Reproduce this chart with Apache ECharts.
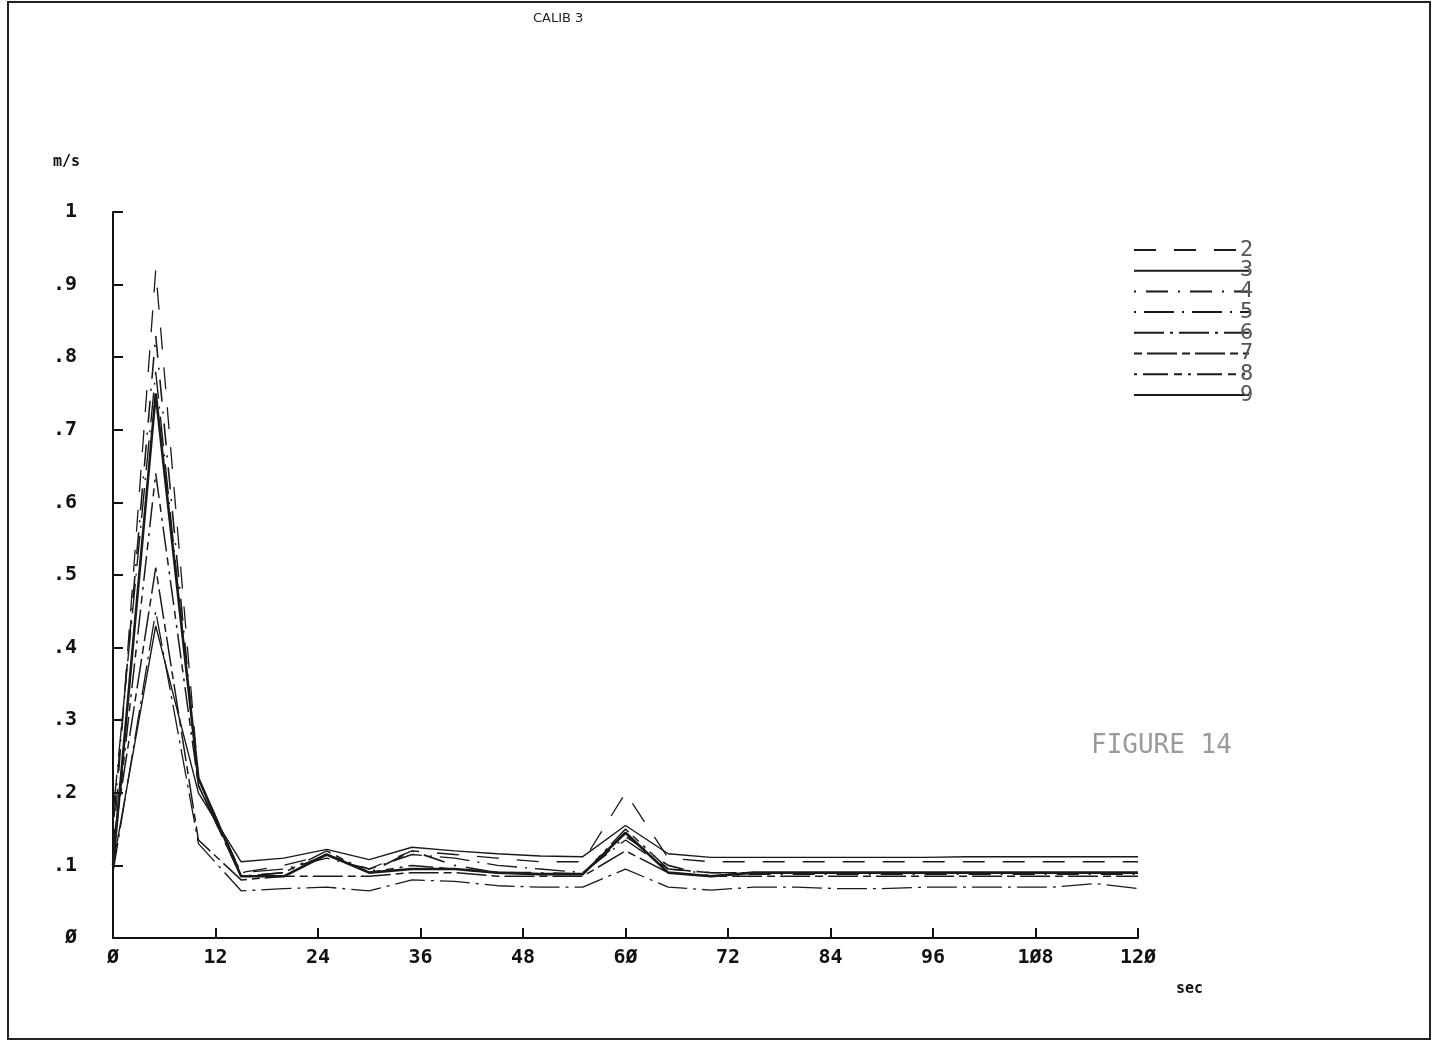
<!DOCTYPE html>
<html>
<head>
<meta charset="utf-8">
<script src="https://cdn.jsdelivr.net/npm/echarts@6/dist/echarts.min.js"></script>
<style>
html,body{margin:0;padding:0;background:#fff;}
#chart{width:1434px;height:1043px;}
</style>
</head>
<body>
<div id="chart"></div>
<script>
// sample times (sec)
const times = [0,5,10,15,20,25,30,35,40,45,50,55,60,65,70,75,80,85,90,95,100,105,110,115,120];
const xTicks = [0,12,24,36,48,60,72,84,96,108,120];
const yTicks = [0,0.1,0.2,0.3,0.4,0.5,0.6,0.7,0.8,0.9,1];
const seriesNames = ['2','3','4','5','6','7','8','9'];

const s2 = [0.12,0.92,0.22,0.09,0.10,0.115,0.095,0.12,0.115,0.11,0.105,0.105,0.20,0.11,0.105,0.105,0.105,0.105,0.105,0.105,0.105,0.105,0.105,0.105,0.105];
const s3 = [0.10,0.43,0.20,0.105,0.11,0.122,0.108,0.125,0.12,0.116,0.113,0.112,0.155,0.116,0.111,0.111,0.111,0.111,0.111,0.111,0.112,0.112,0.112,0.112,0.112];
const s4 = [0.15,0.83,0.21,0.085,0.09,0.115,0.09,0.12,0.10,0.09,0.09,0.088,0.14,0.10,0.085,0.088,0.088,0.088,0.088,0.088,0.088,0.088,0.088,0.088,0.088];
const s5 = [0.17,0.78,0.21,0.09,0.095,0.11,0.095,0.115,0.11,0.10,0.095,0.09,0.135,0.095,0.09,0.09,0.09,0.09,0.09,0.09,0.09,0.09,0.09,0.09,0.09];
const s6 = [0.09,0.45,0.13,0.065,0.068,0.07,0.065,0.08,0.078,0.072,0.07,0.07,0.095,0.07,0.066,0.07,0.07,0.068,0.068,0.07,0.07,0.07,0.07,0.075,0.068];
const s7 = [0.13,0.51,0.135,0.08,0.085,0.085,0.085,0.09,0.09,0.085,0.085,0.085,0.12,0.09,0.085,0.085,0.085,0.085,0.085,0.085,0.085,0.085,0.085,0.085,0.085];
const s8 = [0.11,0.64,0.21,0.085,0.09,0.12,0.09,0.10,0.095,0.09,0.088,0.088,0.15,0.095,0.09,0.09,0.09,0.09,0.09,0.09,0.09,0.09,0.09,0.09,0.09];
const s9 = [0.10,0.75,0.22,0.085,0.085,0.115,0.09,0.095,0.095,0.09,0.088,0.088,0.145,0.09,0.085,0.09,0.09,0.09,0.09,0.09,0.09,0.09,0.09,0.09,0.09];
const allValues = [s2,s3,s4,s5,s6,s7,s8,s9];

const styles = [
  {type:[22,18], width:1.3},
  {type:'solid', width:1.4},
  {type:[2,10,22,10], width:1.6},
  {type:[2,8,30,8], width:1.4},
  {type:[30,6,3,6], width:1.3},
  {type:[8,5,30,5], width:1.5},
  {type:[3,6,25,6,8,6], width:1.5},
  {type:'solid', width:2.6}
];

const series = seriesNames.map((n,i)=>({
  name:n,
  type:'line',
  symbol:'none',
  data: times.map((t,j)=>[t, allValues[i][j]]),
  lineStyle:{color:'#1a1a1a', width:styles[i].width, type:styles[i].type},
  itemStyle:{color:'#1a1a1a'},
  emphasis:{disabled:true},
  animation:false
}));

const mono = '"DejaVu Sans Mono", monospace';
const chart = echarts.init(document.getElementById('chart'));
chart.setOption({
  backgroundColor:'#fff',
  animation:false,
  title:[
    {text:'CALIB 3', left:528, top:7, textStyle:{fontFamily:'"DejaVu Sans", sans-serif', fontSize:13, fontWeight:'normal', color:'#222'}},
    {text:'FIGURE 14', left:1086, top:728, textStyle:{fontFamily:mono, fontSize:26, fontWeight:'normal', color:'#9a9a9a'}}
  ],
  grid:{left:113, right:296, top:212, bottom:105, containLabel:false},
  legend:{
    orient:'vertical', left:1133, top:239, padding:0,
    itemWidth:115, itemHeight:12, itemGap:-1.3,
    data:seriesNames,
    itemStyle:{opacity:0},
    textStyle:{fontFamily:mono, fontSize:22, color:'#555', padding:[0,0,0,-14]},
    selectedMode:false
  },
  xAxis:{
    type:'value', min:0, max:120, interval:12,
    name:'sec', nameLocation:'end', nameGap:38,
    nameTextStyle:{fontFamily:mono, fontSize:15, fontWeight:'bold', color:'#111', verticalAlign:'top', padding:[44,0,0,0]},
    axisLine:{show:true, lineStyle:{color:'#111', width:2}},
    axisTick:{show:true, inside:true, length:10, lineStyle:{color:'#111', width:2}},
    splitLine:{show:false},
    axisLabel:{margin:10, fontFamily:mono, fontSize:20, fontWeight:'bold', color:'#111',
      formatter:v=>String(v).replace(/0/g,'Ø')}
  },
  yAxis:{
    type:'value', min:0, max:1, interval:0.1,
    name:'m/s', nameLocation:'end', nameGap:42,
    nameTextStyle:{fontFamily:mono, fontSize:15, fontWeight:'bold', color:'#111', align:'right', padding:[0,33,0,0]},
    axisLine:{show:true, lineStyle:{color:'#111', width:2}},
    axisTick:{show:true, inside:true, length:10, lineStyle:{color:'#111', width:2}},
    splitLine:{show:false},
    axisLabel:{margin:36, fontFamily:mono, fontSize:20, fontWeight:'bold', color:'#111',
      formatter:v=>{ const r=Math.round(v*10); if(r===0) return 'Ø'; if(r===10) return '1'; return '.'+r; }}
  },
  graphic:[
    {type:'rect', shape:{x:8, y:2, width:1422, height:1037}, style:{fill:'none', stroke:'#222', lineWidth:2}, silent:true}
  ],
  series:series
});
</script>
</body>
</html>
